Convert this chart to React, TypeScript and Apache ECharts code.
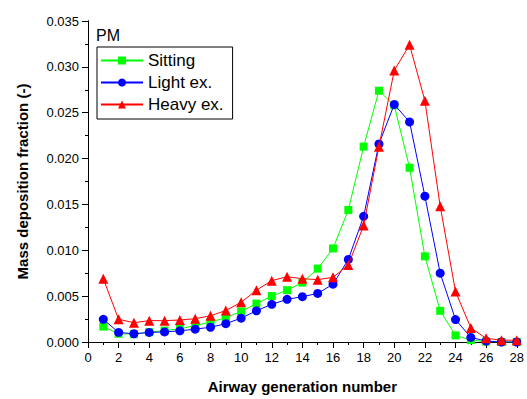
import React, { useEffect, useRef } from "react";
import * as echarts from "echarts";

const generations = [1, 2, 3, 4, 5, 6, 7, 8, 9, 10, 11, 12, 13, 14, 15, 16, 17, 18, 19, 20, 21, 22, 23, 24, 25, 26, 27, 28];
const sitting = [0.00168, 0.0009, 0.00086, 0.00107, 0.00125, 0.00143, 0.00179, 0.00218, 0.00265, 0.00333, 0.00419, 0.00501, 0.00565, 0.00648, 0.008, 0.0102, 0.0144, 0.0213, 0.0274, 0.0258, 0.019, 0.00934, 0.0034, 0.00072, 0.0002, 0.00005, 0.0, 0.0];
const lightEx = [0.00247, 0.00104, 0.0009, 0.00104, 0.0011, 0.00122, 0.0014, 0.00161, 0.002, 0.0026, 0.0034, 0.00411, 0.00465, 0.00494, 0.0053, 0.0063, 0.009, 0.0137, 0.0216, 0.0259, 0.024, 0.0159, 0.0075, 0.00244, 0.0005, 0.0001, 0.0, 0.0];
const heavyEx = [0.0069, 0.00247, 0.00211, 0.00233, 0.00233, 0.0024, 0.00254, 0.00286, 0.00343, 0.00433, 0.00565, 0.00669, 0.00712, 0.0069, 0.0068, 0.00705, 0.0084, 0.0127, 0.0213, 0.0296, 0.0324, 0.0263, 0.0148, 0.0055, 0.00154, 0.0004, 0.0002, 0.0002];
const seriesNames = ["Sitting", "Light ex.", "Heavy ex."];

const FONT = "'Liberation Sans', Arial, sans-serif";

export default function App() {
  const ref = useRef<HTMLDivElement>(null);
  useEffect(() => {
    if (!ref.current) return;
    const chart = echarts.init(ref.current, null, { renderer: "svg" });
    const mk = (arr: number[]) => arr.map((v, i) => [generations[i], v]);
    const axisLine = { show: true, lineStyle: { color: "#000", width: 1 } };
    chart.setOption({
      animation: false,
      backgroundColor: "#fff",
      textStyle: { fontFamily: FONT },
      grid: { left: 88, right: 7, top: 21, bottom: 52 },
      graphic: [
        { type: "text", left: 96, top: 27, style: { text: "PM", font: `16px ${FONT}`, fill: "#000" } },
      ],
      legend: {
        orient: "vertical",
        left: 97,
        top: 47,
        padding: [5, 9, 6, 3],
        borderColor: "#000",
        borderWidth: 1,
        borderRadius: 0,
        itemGap: 5,
        itemWidth: 42,
        itemHeight: 10,
        textStyle: { fontFamily: FONT, fontSize: 17, color: "#000" },
        data: seriesNames,
      },
      xAxis: [
        {
          type: "value",
          min: 0,
          max: 28,
          interval: 2,
          axisLine,
          axisTick: { show: true, inside: false, length: 6, lineStyle: { color: "#000" } },
          minorTick: { show: true, splitNumber: 2, length: 3, lineStyle: { color: "#000" } },
          splitLine: { show: false },
          axisLabel: { fontFamily: FONT, fontSize: 13, color: "#000", margin: 9 },
          name: "Airway generation number",
          nameLocation: "middle",
          nameGap: 37,
          nameTextStyle: { fontFamily: FONT, fontSize: 15, fontWeight: "bold", color: "#000" },
        },
        {
          type: "value",
          position: "top",
          min: 0,
          max: 28,
          interval: 2,
          axisLine,
          axisTick: { show: true, inside: true, length: 5, lineStyle: { color: "#000" } },
          minorTick: { show: true, splitNumber: 2, length: 3, lineStyle: { color: "#000" } },
          splitLine: { show: false },
          axisLabel: { show: false },
        },
      ],
      yAxis: [
        {
          type: "value",
          min: 0,
          max: 0.035,
          interval: 0.005,
          axisLine,
          axisTick: { show: true, inside: false, length: 6, lineStyle: { color: "#000" } },
          minorTick: { show: true, splitNumber: 2, length: 3, lineStyle: { color: "#000" } },
          splitLine: { show: false },
          axisLabel: { fontFamily: FONT, fontSize: 13, color: "#000", margin: 9, formatter: (v: number) => v.toFixed(3) },
          name: "Mass deposition fraction (-)",
          nameLocation: "middle",
          nameGap: 58,
          nameTextStyle: { fontFamily: FONT, fontSize: 15, fontWeight: "bold", color: "#000" },
        },
        {
          type: "value",
          position: "right",
          min: 0,
          max: 0.035,
          interval: 0.005,
          axisLine,
          axisTick: { show: true, inside: true, length: 5, lineStyle: { color: "#000" } },
          minorTick: { show: true, splitNumber: 2, length: 3, lineStyle: { color: "#000" } },
          splitLine: { show: false },
          axisLabel: { show: false },
        },
      ],
      series: [
        {
          name: seriesNames[0],
          type: "line",
          data: mk(sitting),
          symbol: "rect",
          symbolSize: 8,
          color: "#00ff00",
          lineStyle: { width: 1, color: "#00ff00" },
          itemStyle: { color: "#00ff00" },
          z: 2,
        },
        {
          name: seriesNames[1],
          type: "line",
          data: mk(lightEx),
          symbol: "circle",
          symbolSize: 9,
          color: "#0000ff",
          lineStyle: { width: 1, color: "#0000ff" },
          itemStyle: { color: "#0000ff" },
          z: 3,
        },
        {
          name: seriesNames[2],
          type: "line",
          data: mk(heavyEx),
          symbol: "triangle",
          symbolSize: 10,
          color: "#ff0000",
          lineStyle: { width: 1, color: "#ff0000" },
          itemStyle: { color: "#ff0000" },
          z: 4,
        },
      ],
    });
    return () => chart.dispose();
  }, []);
  return <div ref={ref} style={{ width: 527, height: 399, position: "fixed", left: 0, top: 0 }} />;
}
